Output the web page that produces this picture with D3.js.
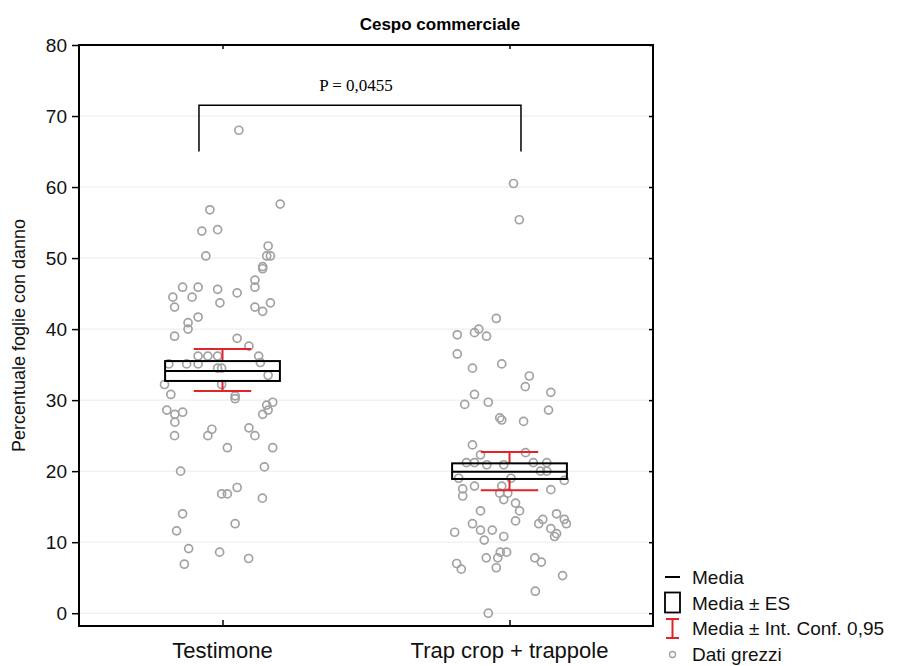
<!DOCTYPE html>
<html>
<head>
<meta charset="utf-8">
<script src="https://cdn.jsdelivr.net/npm/d3@7"></script>
<style>
  body { margin: 0; background: #fff; }
  text { font-family: "Liberation Sans", Arial, sans-serif; }
</style>
</head>
<body>
<div id="chart"></div>
<script>
// data
const categories = ["Testimone", "Trap crop + trappole"];

const testimoneValues = [68.0, 56.8, 57.6, 53.8, 54.0, 50.3, 51.7, 50.3, 50.3, 48.8, 48.5, 46.9, 45.9, 45.9, 45.9,
  45.6, 45.1, 44.5, 44.5, 43.1, 43.7, 43.1, 42.5, 43.7, 41.7, 40.9, 40.0, 39.0, 38.7, 37.6, 36.2, 36.2, 36.2, 36.2,
  35.1, 35.1, 35.1, 35.3, 34.5, 34.5, 33.5, 32.2, 32.2, 30.8, 30.6, 30.2, 28.6, 28.0, 28.3, 26.9, 29.7, 29.3, 28.6,
  28.0, 25.0, 25.9, 25.0, 26.1, 25.0, 23.3, 23.3, 20.0, 20.6, 16.8, 16.8, 17.7, 16.2, 14.0, 11.6, 12.6, 9.1, 8.6,
  7.7, 6.9];
const testimoneJitter = [0.057, -0.044, 0.201, -0.072, -0.017, -0.058, 0.159, 0.154, 0.167, 0.140, 0.140, 0.113,
  0.113, -0.139, -0.085, -0.017, 0.051, -0.173, -0.106, -0.167, -0.009, 0.113, 0.140, 0.167, -0.085, -0.120, -0.120,
  -0.167, 0.051, 0.092, 0.126, -0.085, -0.051, -0.017, -0.187, -0.125, -0.085, 0.132, -0.017, -0.003, 0.159, -0.202,
  -0.003, -0.180, 0.044, 0.044, -0.194, -0.166, -0.139, -0.166, 0.175, 0.154, 0.159, 0.140, -0.167, -0.037, -0.051,
  0.092, 0.113, 0.017, 0.175, -0.146, 0.146, -0.003, 0.017, 0.051, 0.139, -0.139, -0.160, 0.044, -0.118, -0.010,
  0.091, -0.133];

const trapValues = [60.5, 55.4, 41.5, 40.0, 39.5, 39.2, 39.0, 36.5, 34.5, 35.1, 33.4, 31.9, 31.1, 30.8, 29.4, 29.7,
  28.6, 27.5, 27.2, 27.0, 23.7, 22.3, 22.6, 21.2, 21.2, 20.9, 20.9, 21.2, 21.2, 20.0, 20.0, 19.0, 19.0, 18.7, 17.9,
  17.5, 16.5, 17.9, 17.4, 16.9, 16.9, 16.0, 15.5, 14.4, 14.4, 13.0, 12.6, 11.7, 11.7, 10.3, 10.8, 11.4, 12.6, 13.2,
  14.0, 13.2, 12.6, 11.9, 10.8, 11.2, 8.6, 8.6, 7.8, 7.8, 6.4, 7.8, 7.2, 7.0, 6.2, 5.3, 3.1, 0.0];
const trapJitter = [0.014, 0.034, -0.046, -0.107, -0.122, -0.182, -0.080, -0.182, -0.129, -0.027, 0.069, 0.055,
  0.144, -0.122, -0.156, -0.074, 0.136, -0.034, -0.027, 0.049, -0.129, -0.101, 0.056, -0.150, -0.122, -0.079,
  -0.020, 0.083, 0.130, 0.108, 0.130, -0.177, 0.005, 0.191, -0.122, -0.163, -0.163, -0.027, 0.144, -0.034, -0.006,
  -0.020, 0.021, 0.035, -0.101, 0.021, -0.129, -0.101, -0.060, -0.088, -0.020, -0.191, 0.102, 0.116, 0.164, 0.191,
  0.198, 0.144, 0.157, 0.164, -0.032, -0.010, -0.041, -0.081, -0.046, 0.088, 0.111, -0.184, -0.168, 0.185, 0.090,
  -0.074];

const means = [34.1, 19.9];
const seLow = [32.7, 18.9];
const seHigh = [35.5, 21.1];
const ciLow = [31.3, 17.3];
const ciHigh = [37.2, 22.7];

const yTicks = [0, 10, 20, 30, 40, 50, 60, 70, 80];
const pLabel = "P = 0,0455";
const bracketY = [65, 71.5];

const legendLabels = ["Media", "Media ± ES", "Media ± Int. Conf. 0,95", "Dati grezzi"];

const width = 897, height = 666;
const margin = {top: 45, right: 244, bottom: 40, left: 79};

const svg = d3.select("#chart").append("svg")
  .attr("width", width)
  .attr("height", height);

const xScale = d3.scaleLinear()
  .domain([0.5, 2.5])
  .range([margin.left, width - margin.right]);

const yScale = d3.scaleLinear()
  .domain([-1.8, 80])
  .range([height - margin.bottom, margin.top]);

const x0 = margin.left, x1 = width - margin.right;
const y0 = height - margin.bottom, y1 = margin.top;

// gridlines
svg.append("g")
  .selectAll("line")
  .data(yTicks)
  .join("line")
    .attr("x1", x0).attr("x2", x1)
    .attr("y1", d => yScale(d)).attr("y2", d => yScale(d))
    .attr("stroke", "#ebebeb")
    .attr("stroke-width", 1);

// y axis
const yAxis = svg.append("g")
  .attr("transform", `translate(${x0},0)`)
  .call(d3.axisLeft(yScale).tickValues(yTicks).tickSize(7).tickPadding(5));
yAxis.select(".domain").remove();
yAxis.selectAll("line").attr("stroke", "#000").attr("stroke-width", 1.5);
yAxis.selectAll("text").attr("font-size", "19px").attr("fill", "#111")
  .attr("font-family", "Liberation Sans, Arial, sans-serif");

// right side ticks (inward)
svg.append("g")
  .attr("transform", `translate(${x1},0)`)
  .call(d3.axisLeft(yScale).tickValues(yTicks).tickSize(4).tickFormat(""))
  .call(g => g.select(".domain").remove())
  .selectAll("line").attr("stroke", "#000").attr("stroke-width", 1.5);

// bottom axis
const xAxis = svg.append("g")
  .attr("transform", `translate(0,${y0})`)
  .call(d3.axisTop(xScale).tickValues([1, 2]).tickSize(6).tickFormat(""));
xAxis.select(".domain").remove();
xAxis.selectAll("line").attr("stroke", "#000").attr("stroke-width", 1.5);

svg.append("g")
  .selectAll("text")
  .data(categories)
  .join("text")
    .attr("x", (d, i) => xScale(i + 1))
    .attr("y", y0 + 32)
    .attr("text-anchor", "middle")
    .attr("font-size", "22px")
    .attr("fill", "#111")
    .text(d => d);

// top ticks (inward)
svg.append("g")
  .attr("transform", `translate(0,${y1})`)
  .call(d3.axisBottom(xScale).tickValues([1, 2]).tickSize(4).tickFormat(""))
  .call(g => g.select(".domain").remove())
  .selectAll("line").attr("stroke", "#000").attr("stroke-width", 1.5);

// frame
svg.append("rect")
  .attr("x", x0).attr("y", y1)
  .attr("width", x1 - x0).attr("height", y0 - y1)
  .attr("fill", "none")
  .attr("stroke", "#000")
  .attr("stroke-width", 2);

// raw points
const groups = [
  {values: testimoneValues, jitter: testimoneJitter},
  {values: trapValues, jitter: trapJitter}
];
groups.forEach(function(g, gi) {
  svg.append("g")
    .selectAll("circle")
    .data(g.values)
    .join("circle")
      .attr("cx", (d, i) => xScale(gi + 1 + g.jitter[i]))
      .attr("cy", d => yScale(d))
      .attr("r", 4)
      .attr("fill", "none")
      .attr("stroke", "#a2a2a2")
      .attr("stroke-width", 1.7);
});

// summaries: box = mean +- ES, line = mean, red = CI
const boxHalf = 0.2, capHalf = 0.1;
const idx = [0, 1];

const summary = svg.append("g");
summary.selectAll(".ci-v")
  .data(idx)
  .join("path")
    .attr("d", i => `M${xScale(i + 1)},${yScale(ciHigh[i])}V${yScale(seHigh[i])}` +
                    `M${xScale(i + 1)},${yScale(seLow[i])}V${yScale(ciLow[i])}`)
    .attr("stroke", "#e2232a")
    .attr("stroke-width", 2);
summary.selectAll(".ci-cap")
  .data(idx)
  .join("path")
    .attr("d", i => `M${xScale(i + 1 - capHalf)},${yScale(ciHigh[i])}H${xScale(i + 1 + capHalf)}` +
                    `M${xScale(i + 1 - capHalf)},${yScale(ciLow[i])}H${xScale(i + 1 + capHalf)}`)
    .attr("stroke", "#e2232a")
    .attr("stroke-width", 2);
summary.selectAll(".box")
  .data(idx)
  .join("rect")
    .attr("x", i => xScale(i + 1 - boxHalf))
    .attr("width", i => xScale(i + 1 + boxHalf) - xScale(i + 1 - boxHalf))
    .attr("y", i => yScale(seHigh[i]))
    .attr("height", i => yScale(seLow[i]) - yScale(seHigh[i]))
    .attr("fill", "none")
    .attr("stroke", "#000")
    .attr("stroke-width", 2);
summary.selectAll(".mean")
  .data(idx)
  .join("line")
    .attr("x1", i => xScale(i + 1 - boxHalf))
    .attr("x2", i => xScale(i + 1 + boxHalf))
    .attr("y1", i => yScale(means[i]))
    .attr("y2", i => yScale(means[i]))
    .attr("stroke", "#000")
    .attr("stroke-width", 2);

// significance bracket
const bl = xScale(1 - 0.082), br = xScale(2 + 0.04);
svg.append("path")
  .attr("d", `M${bl},${yScale(bracketY[0])}V${yScale(bracketY[1])}H${br}V${yScale(bracketY[0])}`)
  .attr("fill", "none")
  .attr("stroke", "#000")
  .attr("stroke-width", 1.5);
svg.append("text")
  .attr("x", (bl + br) / 2 - 4)
  .attr("y", yScale(bracketY[1]) - 14)
  .attr("text-anchor", "middle")
  .style("font-family", "'Liberation Serif', 'Times New Roman', serif")
  .attr("font-size", "17px")
  .text(pLabel);

// title
svg.append("text")
  .attr("x", 440)
  .attr("y", 30)
  .attr("text-anchor", "middle")
  .attr("font-size", "17px")
  .attr("font-weight", "bold")
  .text("Cespo commerciale");

// y label
svg.append("text")
  .attr("transform", `translate(25,${(y0 + y1) / 2}) rotate(-90)`)
  .attr("text-anchor", "middle")
  .attr("font-size", "18px")
  .attr("fill", "#111")
  .text("Percentuale foglie con danno");

// legend
const legend = svg.append("g").attr("transform", "translate(665,577)");
const rowH = 25.5;
legend.selectAll("text")
  .data(legendLabels)
  .join("text")
    .attr("x", 27)
    .attr("y", (d, i) => i * rowH + 7)
    .attr("font-size", "19px")
    .attr("fill", "#111")
    .text(d => d);
legend.append("line")
  .attr("x1", 0).attr("x2", 15).attr("y1", 0).attr("y2", 0)
  .attr("stroke", "#000").attr("stroke-width", 2);
legend.append("rect")
  .attr("x", 0).attr("y", rowH - 10).attr("width", 15).attr("height", 20)
  .attr("fill", "none").attr("stroke", "#000").attr("stroke-width", 1.8);
legend.append("path")
  .attr("d", `M1,${2 * rowH - 9}H14M7.5,${2 * rowH - 9}V${2 * rowH + 10}M1,${2 * rowH + 10}H14`)
  .attr("stroke", "#e2232a").attr("stroke-width", 2).attr("fill", "none");
legend.append("circle")
  .attr("cx", 7.5).attr("cy", 3 * rowH + 1).attr("r", 3)
  .attr("fill", "none").attr("stroke", "#9f9f9f").attr("stroke-width", 1.3);
</script>
</body>
</html>
